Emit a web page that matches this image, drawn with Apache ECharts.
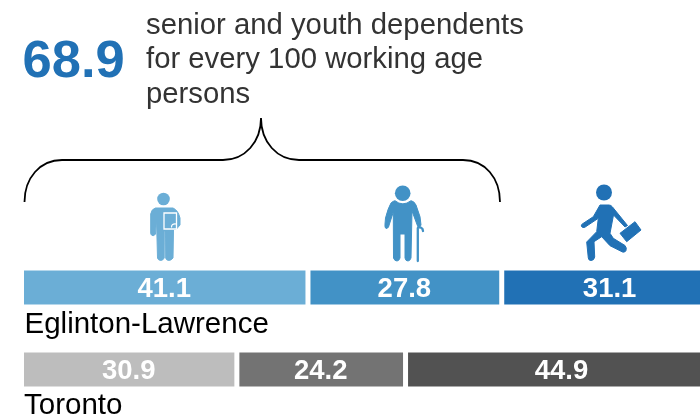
<!DOCTYPE html>
<html>
<head>
<meta charset="utf-8">
<style>
  html, body { margin: 0; padding: 0; background: #fff; overflow: hidden; }
  #chart { width: 700px; height: 416px; }
</style>
<script src="https://cdn.jsdelivr.net/npm/echarts@6/dist/echarts.min.js"></script>
</head>
<body>
<div id="chart"></div>
<script>
  // ============ data ============
  const places = ['Eglinton-Lawrence', 'Toronto']
  const youthValues = [41.1, 30.9]
  const seniorValues = [27.8, 24.2]
  const workingValues = [31.1, 44.9]
  const placeColors = [
    ['#6baed6', '#4292c6', '#2171b5'],
    ['#bdbdbd', '#737373', '#525252']
  ]
  const headline = '68.9'
  const headlineLines = ['senior and youth dependents', 'for every 100 working age', 'persons']

  const FONT = '"Liberation Sans", Arial, sans-serif'

  // graphic has no generic path type, so each svg path gets registered as a shape
  let shapeCount = 0
  function pathEl(d, style) {
    const name = 'deco' + shapeCount++
    echarts.graphic.registerShape(name, echarts.graphic.extendPath(d))
    return { type: name, style }
  }
  const limb = (d, color, width) => pathEl(d, { fill: 'none', stroke: color, lineWidth: width, lineCap: 'round', lineJoin: 'round' })
  const blob = (d, color) => pathEl(d, { fill: color, stroke: color, lineWidth: 1, lineJoin: 'round' })
  const head = (cx, cy, r, color) => ({ type: 'circle', shape: { cx, cy, r }, style: { fill: color } })

  // bracket + pictograms, page decoration
  const youthIcon = [
    head(163.5, 199, 6.3, '#6baed6'),
    blob('M155.5 208 L173 208 Q178 210 180 218 L180 225 L176.5 229 L173.5 229.5 L173 258 Q171 260.5 168.5 260.5 Q166 260 165.7 258 L165.5 231 L164.3 231 L164.2 258 Q163 260.5 160.5 260.5 Q158 260 157.5 258 L156.5 219 L155.5 234 Q154 236.5 152 235.5 Q150.7 234.5 150.7 233 L150.7 214 Q151.5 209 155.5 208 Z', '#6baed6'),
    { type: 'rect', shape: { x: 164, y: 213, width: 12.5, height: 16 }, style: { fill: '#6baed6', stroke: '#fff', lineWidth: 1.3 } },
    limb('M176 224 Q171.5 223.5 171.5 227', '#fff', 1.2)
  ]
  const seniorIcon = [
    head(402.7, 193.2, 7.8, '#4292c6'),
    blob('M395 200.7 Q402.7 207 411 200.7 Q414 201 416 205 L420 216.7 L421 225 Q420 228 418 227 L417.2 225 L412 211 L411 258 Q410 261 408 261 Q405.5 261 405 258 L405 234 L400 234 L400 258 Q399 261 397 261 Q394.5 261 393.5 258 L393.3 212 L388.5 227 Q387 229.5 385.5 228 Q384.7 227 385 224 L385.5 218 Q388 208 391 203 Q393 201 395 200.7 Z', '#4292c6'),
    limb('M417.8 261 L417.8 228 Q420.5 226.5 422.5 229 L423 231', '#4292c6', 2.3)
  ]
  const workerIcon = [
    head(604, 192.5, 8, '#2171b5'),
    blob('M600 205 L609 205 Q611 205 612.5 207 L627.5 225.5 L625 227 L613.5 215 L610 233.3 L613.3 238.3 L625 245.5 Q627 248 626 250.5 Q625 252.8 622.5 252 L610 245.7 L601.7 236.7 L594 241.7 L594.7 257 Q594 260.5 591 260.5 Q588.5 260.5 588.3 258 L586.7 242 L596.7 231.7 L598.3 218.3 L584.5 227.5 Q582 228 581.3 226 Q581 224.5 583 223.5 L593.3 216.7 Z', '#2171b5'),
    blob('M620 233.3 L635 221.7 L641 230 L626.7 241.7 Z', '#2171b5')
  ]

  const chart = echarts.init(document.getElementById('chart'))

  const barSeries = (values, col) => ({
    type: 'bar',
    stack: 'total',
    barWidth: 39,
    silent: true,
    animation: false,
    data: values.map((v, i) => ({
      value: v,
      itemStyle: { color: placeColors[i][col], borderColor: '#fff', borderWidth: 2.5 }
    })),
    label: {
      show: true,
      position: 'inside',
      offset: [-0.5, 1.5],
      color: '#fff',
      fontFamily: FONT,
      fontWeight: 'bold',
      fontSize: 27.5,
      formatter: p => p.value.toFixed(1)
    }
  })

  chart.setOption({
    animation: false,
    // last bar runs past the right edge of the window
    grid: { left: 21.5, top: 246.5, width: 697, height: 164, outerBoundsMode: 'none' },
    xAxis: { type: 'value', min: 0, max: 100, show: false },
    yAxis: {
      type: 'category',
      inverse: true,
      data: places,
      show: false
    },
    series: [
      barSeries(youthValues, 0),
      barSeries(seniorValues, 1),
      barSeries(workingValues, 2)
    ],
    graphic: [
      {
        type: 'text', left: 22.5, top: 36,
        style: { text: headline, fill: '#2171b5', font: 'bold 52.5px ' + FONT }
      },
      {
        type: 'text', left: 146, top: 8.5,
        style: { text: headlineLines.join('\n'), fill: '#333', font: '29.3px ' + FONT, lineHeight: 34.5 }
      },
      {
        type: 'text', left: 24.5, top: 310,
        style: { text: places[0], fill: '#000', font: '29.5px ' + FONT }
      },
      {
        type: 'text', left: 24, top: 391,
        style: { text: places[1], fill: '#000', font: '29.5px ' + FONT }
      },
      pathEl('M24.5 202 C24.5 178 40 160 62 160 L223 160 C245 160 261 142 261 118 C261 142 277 160 299 160 L463 160 C485 160 500 178 500 202',
        { fill: 'none', stroke: '#000', lineWidth: 1.8 }),
      { type: 'group', children: youthIcon },
      { type: 'group', children: seniorIcon },
      { type: 'group', children: workerIcon }
    ]
  })
</script>
</body>
</html>
